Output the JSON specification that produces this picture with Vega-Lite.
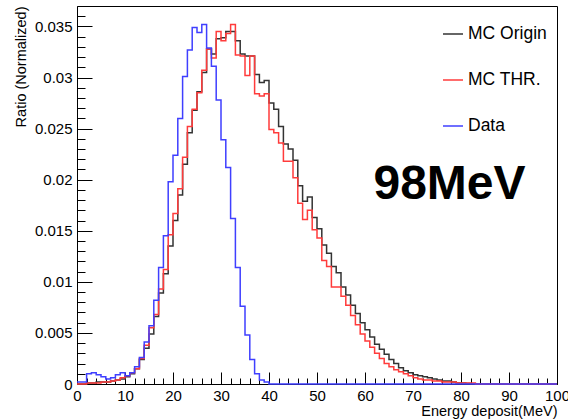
{
  "$schema": "https://vega.github.io/schema/vega-lite/v6.json",
  "width": 480,
  "height": 378,
  "autosize": {"type": "none"},
  "padding": {"left": 77, "top": 6, "right": 11, "bottom": 35},
  "background": "white",
  "config": {
    "font": "Liberation Sans",
    "view": {"stroke": "#000000", "strokeWidth": 1},
    "axis": {"grid": false, "domainColor": "#000000", "tickColor": "#000000", "labelColor": "#000000", "titleColor": "#000000", "tickWidth": 1, "domainWidth": 1}
  },
  "datasets": {
    "h": [
      {"E":0,"o":0,"t":0,"d":0.0002},
      {"E":1,"o":0,"t":0,"d":0.0002},
      {"E":2,"o":0.0001,"t":0.0001,"d":0.0010},
      {"E":3,"o":0.0001,"t":0.0001,"d":0.0011},
      {"E":4,"o":0.0002,"t":0.0001,"d":0.0009},
      {"E":5,"o":0.0002,"t":0.0002,"d":0.0007},
      {"E":6,"o":0.0002,"t":0.0002,"d":0.0005},
      {"E":7,"o":0.0003,"t":0.0003,"d":0.0006},
      {"E":8,"o":0.0004,"t":0.0004,"d":0.0009},
      {"E":9,"o":0.0005,"t":0.0006,"d":0.0011},
      {"E":10,"o":0.0007,"t":0.0008,"d":0.0008},
      {"E":11,"o":0.0010,"t":0.0011,"d":0.0011},
      {"E":12,"o":0.0015,"t":0.0015,"d":0.0017},
      {"E":13,"o":0.0024,"t":0.0025,"d":0.0026},
      {"E":14,"o":0.0035,"t":0.0038,"d":0.0041},
      {"E":15,"o":0.0049,"t":0.0055,"d":0.0057},
      {"E":16,"o":0.0066,"t":0.0068,"d":0.0082},
      {"E":17,"o":0.0089,"t":0.0093,"d":0.0114},
      {"E":18,"o":0.0108,"t":0.0112,"d":0.0145},
      {"E":19,"o":0.0135,"t":0.0146,"d":0.0198},
      {"E":20,"o":0.0160,"t":0.0167,"d":0.0224},
      {"E":21,"o":0.0185,"t":0.0191,"d":0.0260},
      {"E":22,"o":0.0215,"t":0.0222,"d":0.0301},
      {"E":23,"o":0.0246,"t":0.0252,"d":0.0327},
      {"E":24,"o":0.0268,"t":0.0269,"d":0.0349},
      {"E":25,"o":0.0286,"t":0.0285,"d":0.0344},
      {"E":26,"o":0.0305,"t":0.0307,"d":0.0352},
      {"E":27,"o":0.0328,"t":0.0328,"d":0.0329},
      {"E":28,"o":0.0323,"t":0.0319,"d":0.0311},
      {"E":29,"o":0.0338,"t":0.0345,"d":0.0278},
      {"E":30,"o":0.0339,"t":0.0336,"d":0.0239},
      {"E":31,"o":0.0345,"t":0.0343,"d":0.0212},
      {"E":32,"o":0.0345,"t":0.0352,"d":0.0162},
      {"E":33,"o":0.0336,"t":0.0322,"d":0.0114},
      {"E":34,"o":0.0323,"t":0.0321,"d":0.0076},
      {"E":35,"o":0.0321,"t":0.0302,"d":0.0048},
      {"E":36,"o":0.0321,"t":0.0321,"d":0.0024},
      {"E":37,"o":0.0303,"t":0.0284,"d":0.0010},
      {"E":38,"o":0.0295,"t":0.0282,"d":0.0004},
      {"E":39,"o":0.0297,"t":0.0284,"d":0.0002},
      {"E":40,"o":0.0275,"t":0.0249,"d":0},
      {"E":41,"o":0.0269,"t":0.0246,"d":0},
      {"E":42,"o":0.0252,"t":0.0236,"d":0},
      {"E":43,"o":0.0235,"t":0.0218,"d":0},
      {"E":44,"o":0.0230,"t":0.0218,"d":0},
      {"E":45,"o":0.0219,"t":0.0202,"d":0},
      {"E":46,"o":0.0194,"t":0.0177,"d":0},
      {"E":47,"o":0.0179,"t":0.0161,"d":0},
      {"E":48,"o":0.0183,"t":0.0170,"d":0},
      {"E":49,"o":0.0163,"t":0.0151,"d":0},
      {"E":50,"o":0.0152,"t":0.0143,"d":0},
      {"E":51,"o":0.0136,"t":0.0121,"d":0},
      {"E":52,"o":0.0128,"t":0.0115,"d":0},
      {"E":53,"o":0.0115,"t":0.0095,"d":0},
      {"E":54,"o":0.0109,"t":0.0095,"d":0},
      {"E":55,"o":0.0095,"t":0.0086,"d":0},
      {"E":56,"o":0.0087,"t":0.0077,"d":0},
      {"E":57,"o":0.0077,"t":0.0067,"d":0},
      {"E":58,"o":0.0069,"t":0.0058,"d":0},
      {"E":59,"o":0.0060,"t":0.0049,"d":0},
      {"E":60,"o":0.0053,"t":0.0042,"d":0},
      {"E":61,"o":0.0046,"t":0.0036,"d":0},
      {"E":62,"o":0.0039,"t":0.0030,"d":0},
      {"E":63,"o":0.0034,"t":0.0025,"d":0},
      {"E":64,"o":0.0029,"t":0.0020,"d":0},
      {"E":65,"o":0.0024,"t":0.0017,"d":0},
      {"E":66,"o":0.0020,"t":0.0014,"d":0},
      {"E":67,"o":0.0016,"t":0.0012,"d":0},
      {"E":68,"o":0.0013,"t":0.0010,"d":0},
      {"E":69,"o":0.0011,"t":0.0008,"d":0},
      {"E":70,"o":0.0009,"t":0.0006,"d":0},
      {"E":71,"o":0.0008,"t":0.0005,"d":0},
      {"E":72,"o":0.0007,"t":0.0004,"d":0},
      {"E":73,"o":0.0006,"t":0.0004,"d":0},
      {"E":74,"o":0.0005,"t":0.0003,"d":0},
      {"E":75,"o":0.0004,"t":0.0003,"d":0},
      {"E":76,"o":0.0003,"t":0.0002,"d":0},
      {"E":77,"o":0.0003,"t":0.0002,"d":0},
      {"E":78,"o":0.0002,"t":0.0002,"d":0},
      {"E":79,"o":0.0001,"t":0.0001,"d":0},
      {"E":80,"o":0.0001,"t":0.0001,"d":0},
      {"E":81,"o":0.00005,"t":0.0001,"d":0},
      {"E":82,"o":0,"t":0.0001,"d":0},
      {"E":83,"o":0,"t":0,"d":0},
      {"E":84,"o":0,"t":0,"d":0},
      {"E":85,"o":0,"t":0,"d":0},
      {"E":86,"o":0,"t":0,"d":0},
      {"E":87,"o":0,"t":0,"d":0},
      {"E":88,"o":0,"t":0,"d":0},
      {"E":89,"o":0,"t":0,"d":0},
      {"E":90,"o":0,"t":0,"d":0},
      {"E":91,"o":0,"t":0,"d":0},
      {"E":92,"o":0,"t":0,"d":0},
      {"E":93,"o":0,"t":0,"d":0},
      {"E":94,"o":0,"t":0,"d":0},
      {"E":95,"o":0,"t":0,"d":0},
      {"E":96,"o":0,"t":0,"d":0},
      {"E":97,"o":0,"t":0,"d":0},
      {"E":98,"o":0,"t":0,"d":0},
      {"E":99,"o":0,"t":0,"d":0},
      {"E":100,"o":0,"t":0,"d":0}
    ]
  },
  "layer": [
    {
      "data": {"name": "h"},
      "transform": [{"fold": ["o", "t", "d"], "as": ["s", "v"]}],
      "mark": {"type": "line", "interpolate": "step-after", "strokeWidth": 1.5},
      "encoding": {
        "x": {
          "field": "E", "type": "quantitative",
          "scale": {"domain": [0, 100], "nice": false, "zero": false},
          "axis": {
            "orient": "bottom",
            "values": [0,10,20,30,40,50,60,70,80,90,100],
            "format": "d",
            "tickSize": -12,
            "labelPadding": 16,
            "labelFontSize": 15,
            "labelFlush": false,
            "labelOverlap": false,
            "title": "Energy deposit(MeV)",
            "titleFontSize": 14.5,
            "titleFontWeight": "normal",
            "titleAnchor": "end",
            "titlePadding": 1
          }
        },
        "y": {
          "field": "v", "type": "quantitative",
          "scale": {"domain": [0, 0.037], "nice": false},
          "axis": {
            "orient": "left",
            "values": [0,0.005,0.01,0.015,0.02,0.025,0.03,0.035],
            "format": "~g",
            "tickSize": -15,
            "labelPadding": 20,
            "labelFontSize": 15,
            "labelFlush": false,
            "labelOverlap": false,
            "title": "Ratio (Normalized)",
            "titleFontSize": 14.5,
            "titleFontWeight": "normal",
            "titleAnchor": "end",
            "titlePadding": 6
          }
        },
        "color": {
          "field": "s", "type": "nominal",
          "scale": {"domain": ["o", "t", "d"], "range": ["#333333", "#ff3b3b", "#3f3fff"]},
          "legend": {
            "orient": "none",
            "legendX": 365,
            "legendY": 17,
            "title": null,
            "padding": 0,
            "symbolType": "stroke",
            "symbolSize": 400,
            "symbolStrokeWidth": 1.5,
            "labelFontSize": 17.5,
            "labelColor": "#000000",
            "labelOffset": 4,
            "rowPadding": 26,
            "labelExpr": "datum.label == 'o' ? 'MC Origin' : datum.label == 't' ? 'MC THR.' : 'Data'"
          }
        }
      }
    },
    {
      "data": {"values": [{}]},
      "mark": {"type": "text", "text": "98MeV", "fontSize": 48, "fontWeight": "bold", "align": "center", "baseline": "alphabetic", "color": "#000000"},
      "encoding": {
        "x": {
          "datum": 77.6, "type": "quantitative",
          "scale": {"domain": [0, 100], "nice": false, "zero": false},
          "axis": {"orient": "bottom", "values": [2,4,6,8,12,14,16,18,22,24,26,28,32,34,36,38,42,44,46,48,52,54,56,58,62,64,66,68,72,74,76,78,82,84,86,88,92,94,96,98], "tickSize": -6, "labels": false, "domain": false, "title": null}
        },
        "y": {
          "datum": 0.0181, "type": "quantitative",
          "scale": {"domain": [0, 0.037], "nice": false},
          "axis": {"orient": "left", "values": [0.001,0.002,0.003,0.004,0.006,0.007,0.008,0.009,0.011,0.012,0.013,0.014,0.016,0.017,0.018,0.019,0.021,0.022,0.023,0.024,0.026,0.027,0.028,0.029,0.031,0.032,0.033,0.034,0.036], "tickSize": -8, "labels": false, "domain": false, "title": null}
        }
      }
    }
  ],
  "resolve": {"axis": {"x": "independent", "y": "independent"}}
}
